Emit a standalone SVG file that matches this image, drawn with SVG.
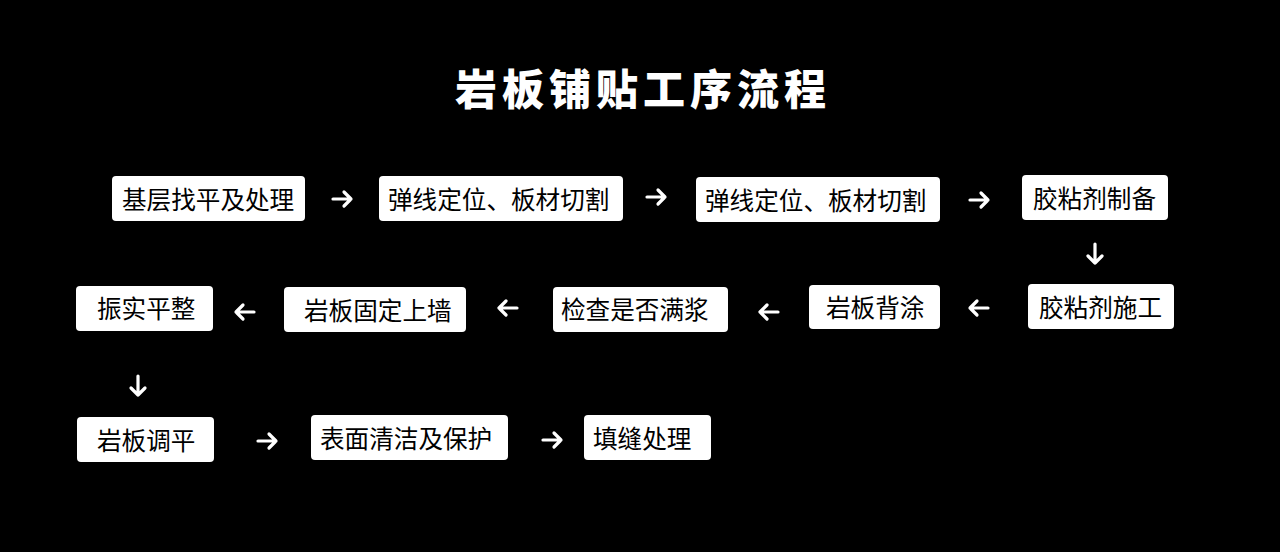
<svg xmlns="http://www.w3.org/2000/svg" width="1280" height="552" viewBox="0 0 1280 552">
<style>
.box{fill:#fff;}
.lbl{font-family:"Noto Sans CJK SC","Noto Sans",sans-serif;font-size:24.6px;fill:#000;dominant-baseline:central;}
.title{font-family:"Noto Sans CJK SC","Noto Sans",sans-serif;font-size:42px;font-weight:900;fill:#fff;letter-spacing:5px;}
.arr{fill:none;stroke:#fff;stroke-width:3.2;stroke-linecap:round;stroke-linejoin:round;}
</style>
<rect width="1280" height="552" fill="#000"/>
<text class="title" x="643" y="105" text-anchor="middle">岩板铺贴工序流程</text>
<g id="n1"><rect class="box" x="112" y="176" width="193" height="45" rx="4"/><text class="lbl" x="122" y="198">基层找平及处理</text></g>
<g id="n2"><rect class="box" x="379" y="176" width="244" height="45" rx="4"/><text class="lbl" x="388" y="198">弹线定位、板材切割</text></g>
<g id="n3"><rect class="box" x="696" y="177" width="244" height="45" rx="4"/><text class="lbl" x="705" y="199">弹线定位、板材切割</text></g>
<g id="n4"><rect class="box" x="1022" y="175" width="146" height="45" rx="4"/><text class="lbl" x="1033" y="197">胶粘剂制备</text></g>
<g id="n5"><rect class="box" x="1028" y="284" width="146" height="45" rx="4"/><text class="lbl" x="1039" y="306">胶粘剂施工</text></g>
<g id="n6"><rect class="box" x="809" y="285" width="131" height="44" rx="4"/><text class="lbl" x="826" y="306">岩板背涂</text></g>
<g id="n7"><rect class="box" x="553" y="287" width="175" height="45" rx="4"/><text class="lbl" x="561" y="308">检查是否满浆</text></g>
<g id="n8"><rect class="box" x="284" y="287" width="182" height="45" rx="4"/><text class="lbl" x="304" y="309">岩板固定上墙</text></g>
<g id="n9"><rect class="box" x="76" y="286" width="137" height="45" rx="4"/><text class="lbl" x="97" y="307">振实平整</text></g>
<g id="n10"><rect class="box" x="77" y="417" width="137" height="45" rx="4"/><text class="lbl" x="97" y="439">岩板调平</text></g>
<g id="n11"><rect class="box" x="311" y="415" width="197" height="45" rx="4"/><text class="lbl" x="320" y="437">表面清洁及保护</text></g>
<g id="n12"><rect class="box" x="584" y="415" width="127" height="45" rx="4"/><text class="lbl" x="593" y="437">填缝处理</text></g>
<g id="connectors">
<path class="arr" d="M333 199H351M344 192L351 199L344 206"/>
<path class="arr" d="M647 197H665M658 190L665 197L658 204"/>
<path class="arr" d="M970 200H988M981 193L988 200L981 207"/>
<path class="arr" d="M1095 244V263M1088 256L1095 263L1102 256"/>
<path class="arr" d="M988 308H970M977 301L970 308L977 315"/>
<path class="arr" d="M778 312H760M767 305L760 312L767 319"/>
<path class="arr" d="M517 308H499M506 301L499 308L506 315"/>
<path class="arr" d="M254 312H236M243 305L236 312L243 319"/>
<path class="arr" d="M138 376V395M131 388L138 395L145 388"/>
<path class="arr" d="M258 441H276M269 434L276 441L269 448"/>
<path class="arr" d="M543 440H561M554 433L561 440L554 447"/>
</g>
</svg>
